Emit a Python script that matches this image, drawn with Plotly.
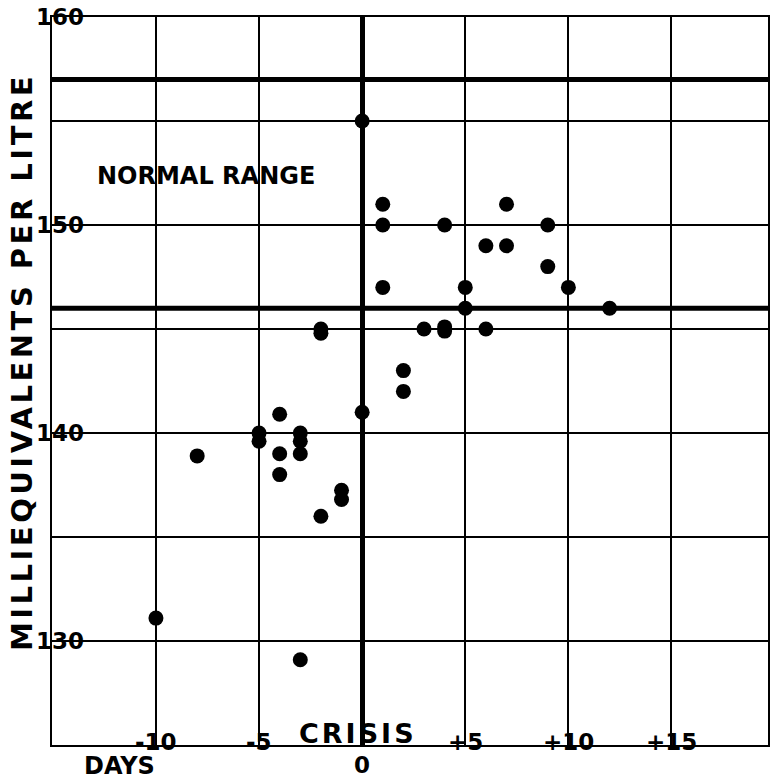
import plotly.graph_objects as go

# ---- data ----
days = [-10, -8, -5, -5, -4, -4, -4, -3, -3, -3, -3, -2, -2, -2, -1, -1,
        0, 0, 1, 1, 1, 2, 2, 3, 4, 4, 4, 5, 5, 6, 6, 7, 7, 9, 9, 10, 12]
sodium = [131.1, 138.9, 140.0, 139.6, 140.9, 139.0, 138.0, 140.0, 139.6, 139.0, 129.1,
          145.0, 144.8, 136.0, 137.25, 136.8,
          155.0, 141.0, 151.0, 150.0, 147.0, 143.0, 142.0, 145.0, 150.0, 145.1, 144.9,
          147.0, 146.0, 149.0, 145.0, 151.0, 149.0, 150.0, 148.0, 147.0, 146.0]

normal_low = 146
normal_high = 157

x_ticks = [-10, -5, 0, 5, 10, 15]
x_tick_labels = ["-10", "-5", "0", "+5", "+10", "+15"]
y_ticks = [130, 140, 150, 160]
y_tick_labels = ["130", "140", "150", "160"]

FONT = "DejaVu Sans"


def bold(size):
    return dict(family=FONT, size=size, color="black", weight="bold")


fig = go.Figure()
fig.add_trace(go.Scatter(
    x=days, y=sodium, mode="markers",
    marker=dict(size=15, color="black", line=dict(width=0)),
    showlegend=False, hoverinfo="x+y",
))

# normal range boundaries (thick lines)
for v in (normal_low, normal_high):
    fig.add_shape(type="line", xref="paper", x0=0, x1=1, yref="y", y0=v, y1=v,
                  line=dict(color="black", width=5), layer="above")

annotations = []
# x tick labels straddling the bottom axis
for t, lab in zip(x_ticks, x_tick_labels):
    annotations.append(dict(
        x=t, xref="x", y=0, yref="paper", text=lab, showarrow=False,
        xanchor="center", yanchor="middle", yshift=(-20 if t == 0 else 3),
        font=bold(23)))
# y tick labels
for t, lab in zip(y_ticks, y_tick_labels):
    annotations.append(dict(
        x=0, xref="paper", y=t, yref="y", text=lab, showarrow=False,
        xanchor="center", yanchor="middle", xshift=8,
        font=bold(23)))

annotations += [
    dict(x=0, xref="x", y=0, yref="paper", xshift=-4, yshift=12,
         text='<span style="letter-spacing:3px">CRISIS</span>', showarrow=False,
         xanchor="center", yanchor="middle", font=bold(27)),
    dict(x=0.0947, xref="paper", y=0, yref="paper", yshift=-21,
         text="DAYS", showarrow=False,
         xanchor="center", yanchor="middle", font=bold(24)),
    dict(x=0.2145, xref="paper", y=0.7816, yref="paper",
         text="NORMAL RANGE", showarrow=False,
         xanchor="center", yanchor="middle", font=bold(24)),
    dict(x=0, xref="paper", y=0.526, yref="paper", xshift=-30,
         text='<span style="letter-spacing:3.5px">MILLIEQUIVALENTS PER LITRE</span>',
         showarrow=False, textangle=-90,
         xanchor="center", yanchor="middle", font=bold(29)),
]

fig.update_layout(
    width=771, height=780,
    margin=dict(l=52, r=1, t=17, b=35),
    paper_bgcolor="white", plot_bgcolor="white",
    annotations=annotations,
    xaxis=dict(range=[-15.04, 19.68], tick0=0, dtick=5, showgrid=True,
               gridcolor="black", gridwidth=2, zeroline=True, zerolinecolor="black",
               zerolinewidth=5, showline=True, linecolor="black", linewidth=2,
               mirror=True, showticklabels=False, ticks=""),
    yaxis=dict(range=[125, 160], tick0=125, dtick=5, showgrid=True,
               gridcolor="black", gridwidth=2, zeroline=False,
               showline=True, linecolor="black", linewidth=2,
               mirror=True, showticklabels=False, ticks=""),
)

fig.write_html(
    "out.html",
    config={"displayModeBar": False},
    post_script="document.body.style.margin='0';document.body.style.overflow='hidden';",
)
